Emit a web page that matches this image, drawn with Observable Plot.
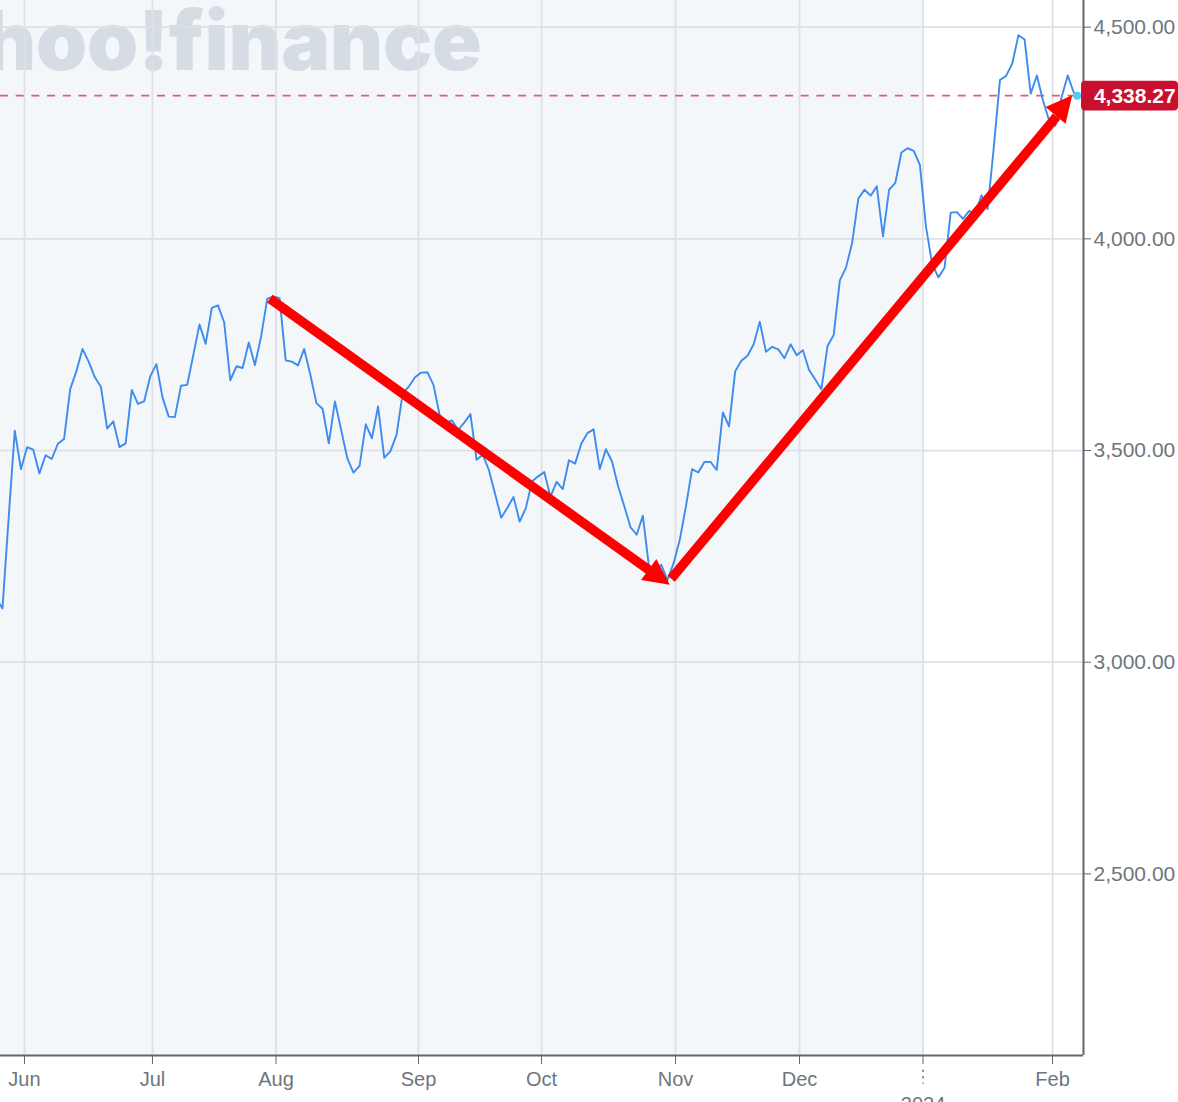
<!DOCTYPE html>
<html>
<head>
<meta charset="utf-8">
<script src="https://cdn.jsdelivr.net/npm/d3@7"></script>
<script src="https://cdn.jsdelivr.net/npm/@observablehq/plot@0.6"></script>
<style>
html,body{margin:0;padding:0;background:#fff;overflow:hidden}
svg{display:block}
</style>
</head>
<body>
<div id="chart"></div>
<script>
// Daily closes, one per trading session
const closes = [
3151,3127,3340,3547,3456,3508,3502,3446,3489,3480,3516,3527,3645,3687,3740,3710,3673,3650,3552,3569,
3508,3517,3643,3610,3616,3675,3704,3625,3580,3579,3653,3655,3726,3798,3752,3837,3843,3803,3666,3699,
3695,3755,3702,3769,3858,3864,3860,3713,3710,3701,3740,3679,3612,3598,3517,3616,3549,3482,3448,3464,
3562,3529,3604,3483,3498,3537,3635,3651,3673,3684,3685,3655,3584,3566,3571,3549,3566,3586,3478,3490,
3454,3398,3341,3365,3390,3332,3364,3427,3439,3449,3391,3426,3409,3477,3469,3516,3541,3550,3456,3503,
3474,3415,3368,3319,3301,3346,3226,3218,3230,3194,3234,3289,3368,3456,3448,3473,3473,3454,3590,3557,
3687,3712,3724,3751,3804,3733,3745,3739,3718,3751,3725,3737,3690,3668,3645,3747,3773,3902,3932,3991,
4095,4116,4102,4124,4006,4116,4132,4204,4214,4208,4175,4027,3940,3909,3932,4062,4063,4047,4066,4058,
4103,4070,4216,4375,4385,4414,4481,4471,4343,4386,4326,4279,4267,4334,4386,4345
];
const lastPrice = 4338.27;
const lastSession = 175.55;

const logoText = "hoo!finance";
const monthLabels = ["Jun","Jul","Aug","Sep","Oct","Nov","Dec","","Feb"];
const monthSessions = [4.575,25.36,45.42,68.57,88.55,110.31,130.45,150.51,171.54];
const yearLabel = "2024";
const yearSession = 150.51;
const priceTicks = [2500,3000,3500,4000,4500];

const xDomain = [0.68,176.57];
const yDomain = [2071,4563];

const series = closes.map((c,i)=>({session:i,price:c})).concat([{session:lastSession,price:lastPrice}]);

// Trend arrows, in sessions and price
const arrowShafts = [
  {x1:44.42,y1:3859,x2:105.97,y2:3218},
  {x1:109.6,y1:3197,x2:172.2,y2:4289}
];
const arrowTips = [
  {x:109.38,y:3183,angle:125.9},
  {x:174.74,y:4339,angle:39.8}
];
const arrowHead = {draw(ctx,size){
  const s=Math.sqrt(size);
  ctx.moveTo(0,0);ctx.lineTo(-0.5*s,s);ctx.lineTo(0.5*s,s);ctx.closePath();
}};

const font = "'Liberation Sans', Arial, sans-serif";
const grid = "#dde1e6";

const chart = Plot.plot({
  width:1178,height:1102,
  marginLeft:0,marginRight:95,marginTop:0,marginBottom:47,
  style:{fontFamily:font,background:"#fff",overflow:"visible"},
  x:{type:"linear",domain:xDomain,axis:null},
  y:{type:"linear",domain:yDomain,axis:null},
  marks:[
    Plot.rect([{a:xDomain[0],b:yearSession}],{x1:"a",x2:"b",y1:()=>yDomain[0],y2:()=>yDomain[1],fill:"#f4f7fa"}),
    Plot.text([logoText],{x:()=>78.8,y:()=>4398,text:d=>d,textAnchor:"end",lineAnchor:"bottom",
      fontFamily:"Inter, sans-serif",fontWeight:900,fontSize:82,fill:"#d6dce4"}),
    Plot.ruleY(priceTicks,{stroke:grid,strokeWidth:1.8}),
    Plot.ruleX(monthSessions,{stroke:grid,strokeWidth:1.8}),
    Plot.ruleY([lastPrice],{stroke:"#e8596e",strokeWidth:1.8,strokeDasharray:"8 7.7"}),
    Plot.line(series,{x:"session",y:"price",stroke:"#3d8ced",strokeWidth:1.9,curve:"linear",clip:true}),
    Plot.dot([series[series.length-1]],{x:"session",y:"price",r:4,fill:"#5ac8fa"}),
    Plot.ruleX([xDomain[1]],{stroke:"#5f676f",strokeWidth:2}),
    Plot.ruleY([yDomain[0]],{stroke:"#5f676f",strokeWidth:2}),
    Plot.axisY({anchor:"right",ticks:priceTicks,tickFormat:d3.format(",.2f"),tickSize:7,tickPadding:3,
      fontSize:21,color:"#6e767e",stroke:"#5f676f",label:null}),
    Plot.axisX({anchor:"bottom",ticks:monthSessions,tickFormat:d=>monthLabels[monthSessions.indexOf(d)],
      tickSize:9,tickPadding:7,fontSize:20,color:"#6e767e",stroke:"#5f676f",label:null}),
    Plot.ruleX([yearSession],{y1:()=>2036,y2:()=>2003,stroke:"#7b8289",strokeWidth:2,strokeDasharray:"2 4.5"}),
    Plot.text([yearLabel],{x:()=>yearSession,y:()=>1955,text:d=>d,fontSize:20,fill:"#6e767e",lineAnchor:"middle"}),
    Plot.rect([{a:176.25,b:192,c:4302,d:4372}],{x1:"a",x2:"b",y1:"c",y2:"d",fill:"#c8102e",rx:4}),
    Plot.text([lastPrice],{x:()=>184.9,y:d=>d,dy:1,text:d=>d3.format(",.2f")(d),fill:"#fff",fontSize:21,fontWeight:600}),
    Plot.link(arrowShafts,{x1:"x1",y1:"y1",x2:"x2",y2:"y2",stroke:"#ff0000",strokeWidth:9.5}),
    Plot.dot(arrowTips,{x:"x",y:"y",rotate:"angle",symbol:arrowHead,r:14.7,fill:"#ff0000",stroke:null})
  ]
});
d3.select(chart).selectAll("text").filter(function(){return this.textContent===logoText;}).style("letter-spacing","-0.3px");
document.getElementById("chart").append(chart);
</script>
</body>
</html>
